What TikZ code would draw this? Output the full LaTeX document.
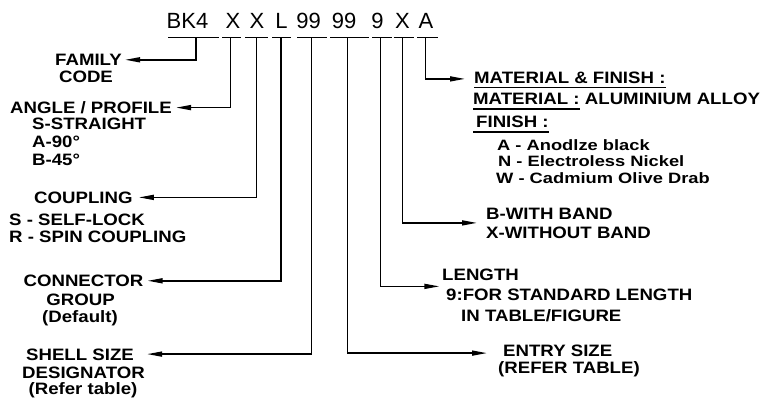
\documentclass[tikz,border=0pt]{standalone}
\usepackage{fontspec}
\setmainfont{Liberation Sans}
\newfontfamily\hdrfont{Liberation Sans}
\newfontfamily\labfont[FakeStretch=1.13]{Liberation Sans Bold}
\newfontfamily\subfont[FakeStretch=1.22]{Liberation Sans Bold}
\usetikzlibrary{arrows.meta,calc}
\tikzset{
  hdr/.style={font=\hdrfont\fontsize{22}{24}\selectfont, inner sep=0pt, anchor=base},
  lab/.style={font=\labfont\fontsize{16.5}{18}\selectfont, inner sep=0pt, text height=11.8pt, text depth=0pt},
  sublab/.style={font=\subfont\fontsize{15}{17}\selectfont, inner sep=0pt, anchor=base west},
  ul/.style={line width=1.3pt},
  conn/.style={line width=1.5pt, -{Triangle[length=15pt,width=5pt]}},
}
\begin{document}
\begin{tikzpicture}[x=1pt,y=-1pt]
\useasboundingbox (0,0) rectangle (779,401);
% header
\node[hdr] (hBK) at (187.5,28.5) {BK4};
\node[hdr] (hXa) at (233,28.5) {X};
\node[hdr] (hXb) at (257,28.5) {X};
\node[hdr] (hL) at (281.5,28.5) {L};
\node[hdr] (hNa) at (308.5,28.5) {99};
\node[hdr] (hNb) at (344,28.5) {99};
\node[hdr] (hN) at (377.5,28.5) {9};
\node[hdr] (hXc) at (402.5,28.5) {X};
\node[hdr] (hA) at (426,28.5) {A};
% underlines
\draw[ul] (168,37.5) -- (219,37.5);
\draw[ul] (222,37.5) -- (241,37.5);
\draw[ul] (245,37.5) -- (268,37.5);
\draw[ul] (272,37.5) -- (291,37.5);
\draw[ul] (297,37.5) -- (327,37.5);
\draw[ul] (330,37.5) -- (369,37.5);
\draw[ul] (372,37.5) -- (391.5,37.5);
\draw[ul] (393.5,37.5) -- (414,37.5);
\draw[ul] (417,37.5) -- (438,37.5);
\coordinate (u1) at (196,37.5);
\coordinate (u2) at (230.5,37.5);
\coordinate (u3) at (256.7,37.5);
\coordinate (u4) at (281,37.5);
\coordinate (u5) at (311.7,37.5);
\coordinate (u6) at (347.7,37.5);
\coordinate (u7) at (380.5,37.5);
\coordinate (u8) at (402.5,37.5);
\coordinate (u9) at (425.5,37.5);
% left labels
\node[lab,anchor=base] (famA) at (88.5,65.7) {FAMILY};
\node[lab,anchor=base] (famB) at (86,82.3) {CODE};
\node[lab,anchor=base] (angA) at (91,113.5) {ANGLE / PROFILE};
\node[lab,anchor=base west] (angB) at (32,130) {S-STRAIGHT};
\node[lab,anchor=base west] (angC) at (32,148) {A-90°};
\node[lab,anchor=base west] (angD) at (32,165) {B-45°};
\node[lab,anchor=base west] (coA) at (34,203.3) {COUPLING};
\node[lab,anchor=base west] (coB) at (9,225) {S - SELF-LOCK};
\node[lab,anchor=base west] (coC) at (9,242.3) {R - SPIN COUPLING};
\node[lab,anchor=base] (cnA) at (83.5,286.7) {CONNECTOR};
\node[lab,anchor=base] (cnB) at (80.5,305) {GROUP};
\node[lab,anchor=base] (cnC) at (80,322) {(Default)};
\node[lab,anchor=base] (shA) at (80,360) {SHELL SIZE};
\node[lab,anchor=base] (shB) at (83.5,378) {DESIGNATOR};
\node[lab,anchor=base] (shC) at (83,394) {(Refer table)};
% right labels
\node[lab,anchor=base west] (mfA) at (474,83.3) {MATERIAL \& FINISH :};
\node[lab,anchor=base west] (mfB) at (473,105) {MATERIAL :};
\node[lab,anchor=base west] (mfC) at ([xshift=5pt]mfB.base east) {ALUMINIUM ALLOY};
\node[lab,anchor=base west] (fiA) at (476,128) {FINISH :};
\node[sublab] (fiB) at (497,150) {A - Anodlze black};
\node[sublab] (fiC) at (498,166.7) {N - Electroless Nickel};
\node[sublab] (fiD) at (496,183.3) {W - Cadmium Olive Drab};
\node[lab,anchor=base west] (bdA) at (486,219.3) {B-WITH BAND};
\node[lab,anchor=base west] (bdB) at (486,238.3) {X-WITHOUT BAND};
\node[lab,anchor=base west] (lnA) at (442,280.7) {LENGTH};
\node[lab,anchor=base west] (lnB) at (446,300) {9:FOR STANDARD LENGTH};
\node[lab,anchor=base west] (lnC) at (461,321.7) {IN TABLE/FIGURE};
\node[lab,anchor=base west] (enA) at (503,356) {ENTRY SIZE};
\node[lab,anchor=base west] (enB) at (498,373) {(REFER TABLE)};
% text underlines
\draw[ul] ([yshift=-4pt]mfA.base west) -- ([yshift=-4pt]mfA.base east);
\draw[ul] ([yshift=-4pt]mfB.base west) -- ([yshift=-4pt]mfB.base east);
\draw[ul] ([shift={(-3pt,-4pt)}]fiA.base west) -- ([yshift=-4pt]fiA.base east);
% connectors
\draw[conn] (u1) |- ([xshift=3pt]famA.east);
\draw[conn] (u2) |- ([xshift=4pt]angA.east);
\draw[conn] (u3) |- ([xshift=6pt]coA.east);
\draw[conn] (u4) |- ([xshift=4pt]cnA.east);
\draw[conn] (u5) |- ([xshift=13pt]shA.east);
\draw[conn] (u6) |- ([shift={(-16pt,-3pt)}]enA.west);
\draw[conn] (u7) |- ([xshift=-5pt]$(lnA.west)!0.6!(lnB.west)$);
\draw[conn] (u8) |- ([xshift=-9pt]$(bdA.west)!0.5!(bdB.west)$);
\draw[conn] (u9) |- ([shift={(-9pt,-1.5pt)}]mfA.west);
\end{tikzpicture}
\end{document}
